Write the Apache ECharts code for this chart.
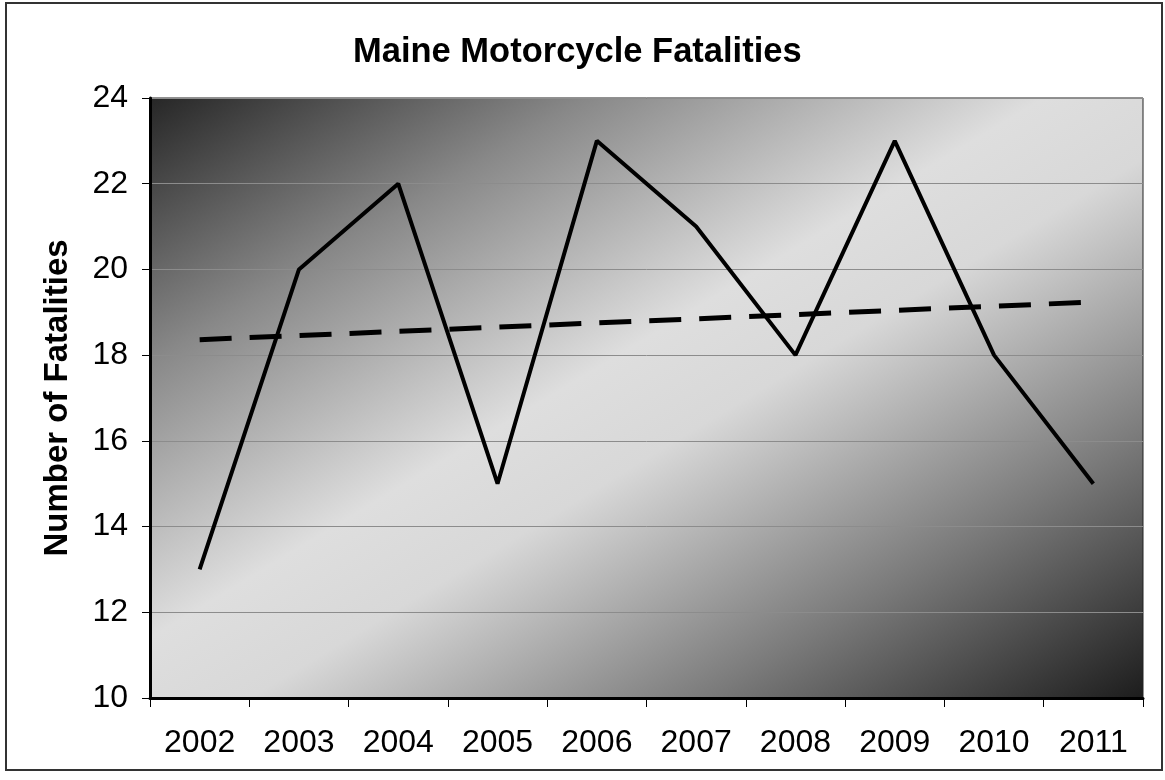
<!DOCTYPE html>
<html>
<head>
<meta charset="utf-8">
<script src="https://cdn.jsdelivr.net/npm/echarts@6/dist/echarts.min.js"></script>
<style>
  html, body { margin: 0; padding: 0; background: #fff; }
  #chart { width: 1165px; height: 780px; }
</style>
</head>
<body>
<div id="chart"></div>
<script>
// Yearly motorcycle fatalities in Maine
const years = ['2002', '2003', '2004', '2005', '2006', '2007', '2008', '2009', '2010', '2011'];
const fatalities = [13, 20, 22, 15, 23, 21, 18, 23, 18, 15];
// Linear trend: endpoints only, joined by a straight line
const trendEnds = [18.36, null, null, null, null, null, null, null, null, 19.24];
const yTicks = { min: 10, max: 24, step: 2 };

const FONT = '"Liberation Sans", Arial, sans-serif';
const chart = echarts.init(document.getElementById('chart'));

// Plot area size, used to orient the shading band along the anti-diagonal
const plotW = 993, plotH = 600;
const d2 = plotW * plotW + plotH * plotH;
const gx = 2 * plotH * plotH / d2;
const gy = 2 * plotW * plotW / d2;

chart.setOption({
  animation: false,
  backgroundColor: '#ffffff',
  title: {
    text: 'Maine Motorcycle Fatalities',
    left: 348,
    top: 30,
    textStyle: { fontFamily: FONT, fontWeight: 'bold', fontSize: 34.5, color: '#000' }
  },
  grid: {
    left: 150, right: 22, top: 98, bottom: 82,
    show: true,
    borderColor: '#222',
    borderWidth: 1,
    backgroundColor: new echarts.graphic.LinearGradient(0, 0, gx, gy, [
      { offset: 0, color: '#262626' },
      { offset: 0.22, color: '#888888' },
      { offset: 0.45, color: '#dedede' },
      { offset: 0.55, color: '#d8d8d8' },
      { offset: 0.78, color: '#7a7a7a' },
      { offset: 1, color: '#1c1c1c' }
    ])
  },
  xAxis: {
    type: 'category',
    data: years,
    boundaryGap: true,
    axisLine: { lineStyle: { color: '#000', width: 3 } },
    axisTick: { show: true, length: 9, lineStyle: { color: '#000', width: 1 } },
    axisLabel: { fontFamily: FONT, fontSize: 32, color: '#000', margin: 29 }
  },
  yAxis: {
    type: 'value',
    min: yTicks.min, max: yTicks.max, interval: yTicks.step,
    name: 'Number of Fatalities',
    nameLocation: 'middle',
    nameGap: 76,
    nameTextStyle: { fontFamily: FONT, fontWeight: 'bold', fontSize: 33, color: '#000' },
    axisLine: { show: true, lineStyle: { color: '#000', width: 3 } },
    axisTick: { show: true, length: 8, lineStyle: { color: '#000', width: 1 } },
    axisLabel: { fontFamily: FONT, fontSize: 32, color: '#000', margin: 22 },
    splitLine: { show: true, lineStyle: { color: '#8c8c8c', width: 1 } }
  },
  series: [
    {
      name: 'Fatalities',
      type: 'line',
      data: fatalities,
      symbol: 'none',
      lineStyle: { color: '#000', width: 4 },
      z: 3
    },
    {
      name: 'Trend',
      type: 'line',
      data: trendEnds,
      connectNulls: true,
      symbol: 'none',
      lineStyle: { color: '#000', width: 5, type: [32, 18] },
      z: 2
    }
  ],
  graphic: [
    {
      type: 'rect',
      shape: { x: 6, y: 3, width: 1156, height: 767 },
      style: { fill: 'none', stroke: '#333', lineWidth: 2 },
      silent: true
    }
  ]
});
</script>
</body>
</html>
